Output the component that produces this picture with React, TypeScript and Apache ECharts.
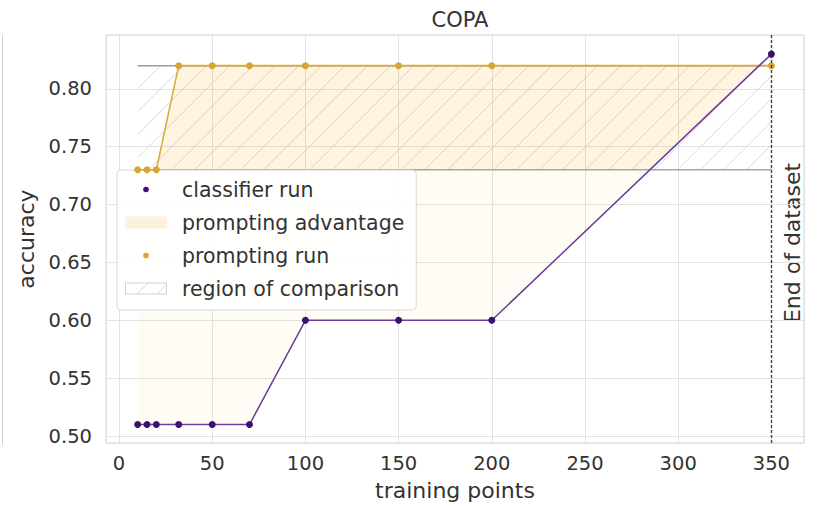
import React, { useEffect, useRef } from "react";
import * as echarts from "echarts";

const trainingPoints = [10, 15, 20, 32, 50, 70, 100, 150, 200, 350];
const classifierRun = [0.51, 0.51, 0.51, 0.51, 0.51, 0.51, 0.6, 0.6, 0.6, 0.83];
const promptingRun = [0.73, 0.73, 0.73, 0.82, 0.82, 0.82, 0.82, 0.82, 0.82, 0.82];
const comparisonLow = 0.73;
const comparisonHigh = 0.82;
const endOfDataset = 350;
const xTickStep = 50;
const yTickStep = 0.05;

const FONT = "DejaVu Sans";
const TEXT = "#333333";

function svgIcon(inner: string): string {
  return (
    "image://data:image/svg+xml;charset=utf-8," +
    encodeURIComponent(
      `<svg xmlns="http://www.w3.org/2000/svg" width="42" height="14" viewBox="0 0 42 14">${inner}</svg>`
    )
  );
}

const isMultiple = (v: number, step: number) =>
  Math.abs(v / step - Math.round(v / step)) < 1e-6;

// clip a polygon to the half-plane where keep(p) is true, boundary at y = yLine
function clipY(poly: number[][], yLine: number, keepAbove: boolean): number[][] {
  const out: number[][] = [];
  const inside = (p: number[]) => (keepAbove ? p[1] <= yLine : p[1] >= yLine);
  for (let i = 0; i < poly.length; i++) {
    const a = poly[i];
    const b = poly[(i + 1) % poly.length];
    const ia = inside(a);
    const ib = inside(b);
    if (ia) out.push(a);
    if (ia !== ib) {
      const t = (yLine - a[1]) / (b[1] - a[1]);
      out.push([a[0] + t * (b[0] - a[0]), yLine]);
    }
  }
  return out;
}

export default function App() {
  const ref = useRef<HTMLDivElement>(null);

  useEffect(() => {
    document.body.style.margin = "0";
    if (!ref.current) return;
    const chart = echarts.init(ref.current, null, { renderer: "svg" });

    const classifierPairs = trainingPoints.map((x, i) => [x, classifierRun[i]]);
    const promptingPairs = trainingPoints.map((x, i) => [x, promptingRun[i]]);

    const option: any = {
      animation: false,
      backgroundColor: "#ffffff",
      title: {
        text: "COPA",
        left: 455,
        top: 4,
        textAlign: "center",
        textStyle: { fontFamily: FONT, fontSize: 21, fontWeight: "normal", color: TEXT },
      },
      grid: {
        left: 106,
        right: 14,
        top: 35,
        bottom: 61,
        show: true,
        borderColor: "#d4d4d4",
        borderWidth: 1,
        backgroundColor: "#ffffff",
      },
      legend: {
        orient: "vertical",
        left: 117,
        top: 170,
        itemWidth: 42,
        itemHeight: 14,
        itemGap: 10,
        padding: [8, 12, 10, 8],
        backgroundColor: "rgba(255,255,255,0.88)",
        borderColor: "#d8d8d8",
        borderWidth: 1,
        borderRadius: 4,
        selectedMode: false,
        textStyle: {
          fontFamily: FONT,
          fontSize: 20.5,
          color: TEXT,
          lineHeight: 23,
          padding: [0, 0, 0, 10],
        },
        data: [
          { name: "classifier run", icon: svgIcon(`<circle cx="21" cy="7" r="2.8" fill="#3f0f73"/>`) },
          { name: "prompting advantage", icon: svgIcon(`<rect x="0" y="1" width="42" height="12" fill="#fdf0dc"/>`) },
          { name: "prompting run", icon: svgIcon(`<circle cx="21" cy="7" r="2.8" fill="#d6a532"/>`) },
          {
            name: "region of comparison",
            icon: svgIcon(
              `<rect x="0.5" y="1.5" width="41" height="11" fill="none" stroke="#cfcfcf" stroke-width="1"/>` +
                `<line x1="12" y1="12.5" x2="23" y2="1.5" stroke="#d0d0d0" stroke-width="0.8"/>` +
                `<line x1="32" y1="12.5" x2="41.5" y2="3" stroke="#d0d0d0" stroke-width="0.8"/>`
            ),
          },
        ],
      },
      xAxis: {
        type: "value",
        min: -7,
        max: 367.5,
        minInterval: xTickStep,
        maxInterval: xTickStep,
        name: "training points",
        nameLocation: "middle",
        nameGap: 36,
        nameTextStyle: { fontFamily: FONT, fontSize: 22, color: TEXT },
        axisLine: { show: false },
        axisTick: { show: false },
        axisLabel: {
          fontFamily: FONT,
          fontSize: 19.5,
          color: TEXT,
          margin: 10,
          formatter: (v: number) => (isMultiple(v, xTickStep) ? String(Math.round(v)) : ""),
        },
        splitLine: { show: true, lineStyle: { color: "#e2e2e2", width: 1 } },
      },
      yAxis: {
        type: "value",
        min: 0.494,
        max: 0.8465,
        minInterval: yTickStep,
        maxInterval: yTickStep,
        name: "accuracy",
        nameLocation: "middle",
        nameGap: 60,
        nameTextStyle: { fontFamily: FONT, fontSize: 22, color: TEXT },
        axisLine: { show: false },
        axisTick: { show: false },
        axisLabel: {
          fontFamily: FONT,
          fontSize: 19.5,
          color: TEXT,
          margin: 14,
          formatter: (v: number) => (isMultiple(v, yTickStep) ? v.toFixed(2) : ""),
        },
        splitLine: { show: true, lineStyle: { color: "#e2e2e2", width: 1 } },
      },
      series: [
        {
          name: "region of comparison",
          type: "custom",
          z: 1,
          silent: true,
          data: [[trainingPoints[0], comparisonHigh]],
          renderItem: (params: any, api: any) => {
            const p0 = api.coord([trainingPoints[0], comparisonHigh]);
            const p1 = api.coord([endOfDataset, comparisonLow]);
            const x0 = p0[0], x1 = p1[0], yt = p0[1], yb = p1[1];
            const h = yb - yt;
            const step = 23;
            const children: any[] = [];
            for (let c = x0 - h; c < x1; c += step) {
              const t0 = Math.max(0, x0 - c);
              const t1 = Math.min(h, x1 - c);
              if (t1 <= t0) continue;
              children.push({
                type: "line",
                shape: { x1: c + t0, y1: yb - t0, x2: c + t1, y2: yb - t1 },
                style: { stroke: "#cdcdcd", lineWidth: 0.8 },
              });
            }
            children.push({
              type: "line",
              shape: { x1: x0, y1: yt, x2: x1, y2: yt },
              style: { stroke: "#9a9a9a", lineWidth: 1.5 },
            });
            children.push({
              type: "line",
              shape: { x1: x0, y1: yb, x2: x1, y2: yb },
              style: { stroke: "#a6a6a6", lineWidth: 1.5 },
            });
            return { type: "group", children };
          },
        },
        {
          name: "prompting advantage",
          type: "custom",
          z: 2,
          silent: true,
          data: [[trainingPoints[0], promptingRun[0]]],
          renderItem: (params: any, api: any) => {
            const top = trainingPoints.map((x, i) => api.coord([x, promptingRun[i]]));
            const bottom = trainingPoints
              .map((x, i) => api.coord([x, classifierRun[i]]))
              .reverse();
            const poly = top.concat(bottom);
            const yt = api.coord([trainingPoints[0], comparisonHigh])[1];
            const yb = api.coord([trainingPoints[0], comparisonLow])[1];
            const band = clipY(clipY(poly, yb, true), yt, false);
            return {
              type: "group",
              children: [
                {
                  type: "polygon",
                  shape: { points: poly },
                  style: { fill: "rgba(255,165,0,0.035)" },
                },
                {
                  type: "polygon",
                  shape: { points: band },
                  style: { fill: "rgba(255,165,0,0.09)" },
                },
              ],
            };
          },
        },
        {
          name: "prompting run",
          type: "line",
          z: 4,
          data: promptingPairs,
          symbol: "circle",
          symbolSize: 7,
          showSymbol: true,
          itemStyle: { color: "#d6a532" },
          lineStyle: { color: "#dbab3c", width: 1.6 },
          markLine: {
            silent: true,
            symbol: ["none", "none"],
            label: { show: false },
            lineStyle: { color: "#444444", type: [3, 2], width: 1.4 },
            data: [{ xAxis: endOfDataset }],
          },
        },
        {
          name: "classifier run",
          type: "line",
          z: 5,
          data: classifierPairs,
          symbol: "circle",
          symbolSize: 7,
          showSymbol: true,
          itemStyle: { color: "#3f0f73" },
          lineStyle: { color: "#6a3d9a", width: 1.5 },
        },
      ],
      graphic: [
        {
          type: "line",
          silent: true,
          shape: { x1: 2.5, y1: 35, x2: 2.5, y2: 445 },
          style: { stroke: "#cfcfcf", lineWidth: 1 },
        },
        {
          type: "text",
          silent: true,
          x: 792,
          y: 243,
          rotation: Math.PI / 2,
          style: {
            text: "End of dataset",
            fontFamily: FONT,
            fontSize: 22,
            fill: TEXT,
            align: "center",
            verticalAlign: "middle",
          },
        },
      ],
    };

    chart.setOption(option);
    return () => chart.dispose();
  }, []);

  return <div ref={ref} style={{ width: 818, height: 506 }} />;
}
